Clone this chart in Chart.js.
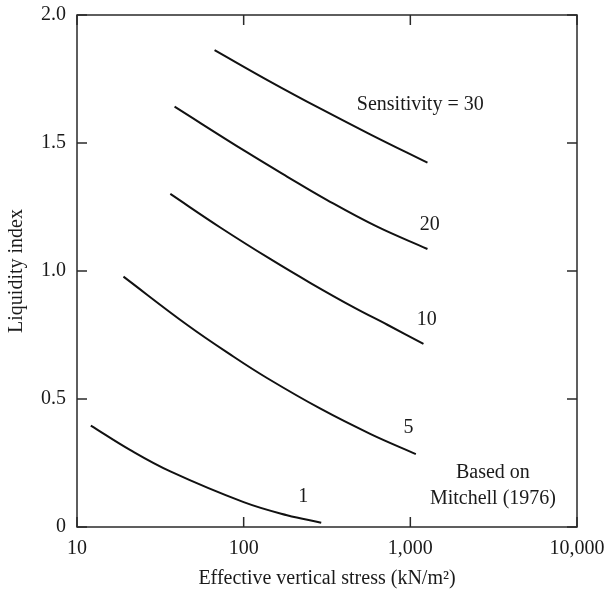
<!DOCTYPE html>
<html>
<head>
<meta charset="utf-8">
<script src="https://cdn.jsdelivr.net/npm/chart.js@4.4.1/dist/chart.umd.min.js"></script>
<style>
  html, body { margin: 0; padding: 0; background: #fff; }
</style>
</head>
<body>
<canvas id="chart" width="606" height="600"></canvas>
<script>
// curve data (stress in kN/m2, liquidity index)
const s1Stress  = [12.1, 20.8, 36.3, 100, 182, 292];
const s1Index   = [0.396, 0.301, 0.217, 0.097, 0.046, 0.017];
const s5Stress  = [19.0, 45.7, 87.1, 138, 289, 578, 1079];
const s5Index   = [0.978, 0.790, 0.665, 0.582, 0.462, 0.363, 0.285];
const s10Stress = [36.3, 72.4, 145, 252, 458, 728, 1199];
const s10Index  = [1.301, 1.170, 1.046, 0.953, 0.858, 0.790, 0.715];
const s20Stress = [38.5, 105, 182, 315, 628, 1267];
const s20Index  = [1.642, 1.463, 1.369, 1.278, 1.174, 1.086];
const s30Stress = [66.9, 145, 289, 578, 1267];
const s30Index  = [1.863, 1.739, 1.634, 1.533, 1.423];

const xTicks = [10, 100, 1000, 10000];
const yTicks = [0, 0.5, 1.0, 1.5, 2.0];

// text labels in the plot, placed in data units
const notes = [
  { text: 'Sensitivity = 30', x: 1147, y: 1.648 },
  { text: '20', x: 1308, y: 1.180 },
  { text: '10', x: 1255, y: 0.809 },
  { text: '5', x: 974, y: 0.387 },
  { text: '1', x: 228, y: 0.117 },
  { text: 'Based on', x: 3130, y: 0.211 },
  { text: 'Mitchell (1976)', x: 3130, y: 0.109 }
];

const FONT = "'Liberation Serif', 'DejaVu Serif', serif";
const INK = '#1a1a1a';

const zip = (xs, ys) => xs.map((x, i) => ({ x: x, y: ys[i] }));

const curves = [
  zip(s1Stress, s1Index),
  zip(s5Stress, s5Index),
  zip(s10Stress, s10Index),
  zip(s20Stress, s20Index),
  zip(s30Stress, s30Index)
];

// frame, inward ticks on all four sides, and the text notes
const framePlugin = {
  id: 'frame',
  afterDraw(chart) {
    const ctx = chart.ctx;
    const a = chart.chartArea;
    const xs = chart.scales.x, ys = chart.scales.y;
    const len = 10;
    ctx.save();
    ctx.strokeStyle = '#2a2a2a';
    ctx.lineWidth = 1.5;
    ctx.strokeRect(a.left, a.top, a.right - a.left, a.bottom - a.top);
    ctx.beginPath();
    xTicks.forEach(v => {
      const px = xs.getPixelForValue(v);
      ctx.moveTo(px, a.bottom); ctx.lineTo(px, a.bottom - len);
      ctx.moveTo(px, a.top); ctx.lineTo(px, a.top + len);
    });
    yTicks.forEach(v => {
      const py = ys.getPixelForValue(v);
      ctx.moveTo(a.left, py); ctx.lineTo(a.left + len, py);
      ctx.moveTo(a.right, py); ctx.lineTo(a.right - len, py);
    });
    ctx.stroke();

    ctx.fillStyle = INK;
    ctx.font = '20px ' + FONT;
    ctx.textAlign = 'center';
    ctx.textBaseline = 'middle';
    notes.forEach(n => {
      ctx.fillText(n.text, xs.getPixelForValue(n.x), ys.getPixelForValue(n.y));
    });
    ctx.restore();
  }
};

new Chart(document.getElementById('chart').getContext('2d'), {
  type: 'scatter',
  data: {
    datasets: curves.map(pts => ({
      data: pts,
      showLine: true,
      borderColor: '#111',
      borderWidth: 2,
      pointRadius: 0,
      tension: 0.4
    }))
  },
  options: {
    responsive: false,
    animation: false,
    devicePixelRatio: 1,
    layout: { padding: { top: 15, right: 29, bottom: 0, left: 0 } },
    plugins: {
      legend: { display: false },
      tooltip: { enabled: false }
    },
    scales: {
      x: {
        type: 'logarithmic',
        min: 10,
        max: 10000,
        afterBuildTicks: s => { s.ticks = xTicks.map(v => ({ value: v })); },
        afterFit: s => { s.height = 73; s.paddingLeft = 0; s.paddingRight = 0; },
        grid: { display: false, drawTicks: false },
        border: { display: false },
        ticks: {
          autoSkip: false,
          maxRotation: 0,
          padding: 10,
          color: INK,
          font: { family: FONT, size: 20 },
          callback: v => Number(v).toLocaleString('en-US')
        },
        title: {
          display: true,
          text: 'Effective vertical stress (kN/m²)',
          color: INK,
          font: { family: FONT, size: 20 },
          padding: { top: 0, bottom: 9 }
        }
      },
      y: {
        min: 0,
        max: 2,
        afterBuildTicks: s => { s.ticks = yTicks.map(v => ({ value: v })); },
        afterFit: s => { s.width = 77; s.paddingTop = 0; s.paddingBottom = 0; },
        grid: { display: false, drawTicks: false },
        border: { display: false },
        ticks: {
          padding: 11,
          color: INK,
          font: { family: FONT, size: 20 },
          callback: v => v === 0 ? '0' : v.toFixed(1)
        },
        title: {
          display: true,
          text: 'Liquidity index',
          color: INK,
          font: { family: FONT, size: 20 },
          padding: { top: 5, bottom: 0 }
        }
      }
    }
  },
  plugins: [framePlugin]
});
</script>
</body>
</html>
